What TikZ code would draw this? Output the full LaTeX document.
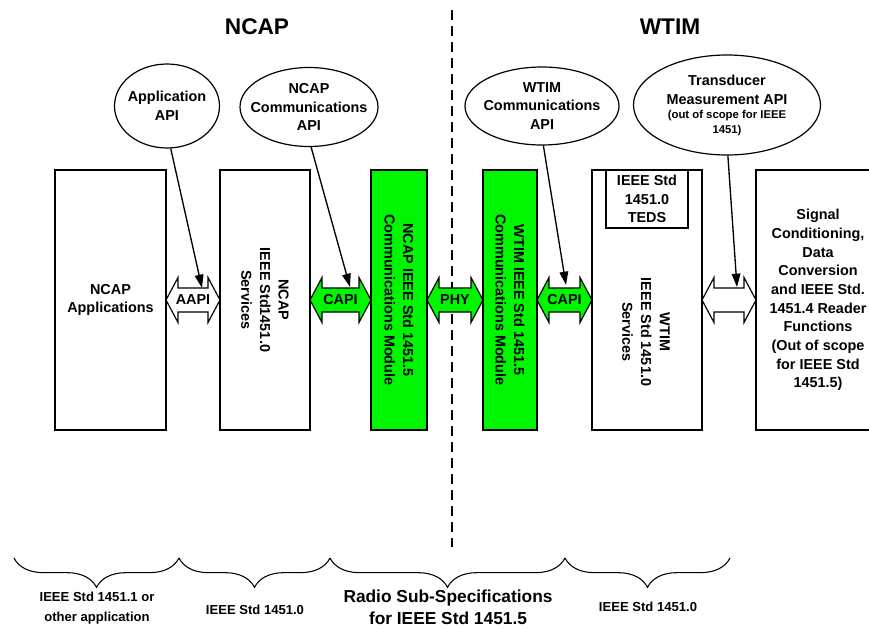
\documentclass[tikz,border=0pt]{standalone}
\usepackage{fontspec}
\setmainfont{Liberation Sans}
\usetikzlibrary{shapes.geometric,arrows.meta,decorations.pathreplacing}
\definecolor{modgreen}{RGB}{0,245,0}
\def\u{0.75pt}
\tikzset{
  txt/.style={font=\bfseries\fontsize{10.8}{14}\selectfont, align=center, inner sep=0pt},
  smalltxt/.style={font=\bfseries\fontsize{8.5}{11}\selectfont, align=center, inner sep=0pt},
  title/.style={font=\bfseries\fontsize{17}{22}\selectfont, inner sep=0pt},
  bottxt/.style={font=\bfseries\fontsize{9.8}{15}\selectfont, align=center, inner sep=0pt},
  bigbot/.style={font=\bfseries\fontsize{13}{16.5}\selectfont, align=center, inner sep=0pt},
  box/.style={draw=black, line width=0.9pt, rectangle, inner sep=0pt},
  greenbox/.style={box, fill=modgreen},
  apiell/.style={draw=black, line width=0.9pt, ellipse, inner sep=0pt},
  ptr/.style={line width=1pt, -{Triangle[length=10pt,width=6.5pt]}},
  blk/.style={draw=black, line width=0.9pt, line join=miter},
  sepline/.style={line width=1.5pt, dash pattern=on 7.5pt off 4.5pt},
  brc/.style={line width=0.8pt, decorate, decoration={brace, mirror, amplitude=22pt}},
}
\newcommand\blockarr[3]{%
  \filldraw[blk, fill=#3] (#1,300) -- ({#1+12},277.5) -- ({#1+12},288) -- ({#2-12},288) -- ({#2-12},277.5) -- (#2,300) -- ({#2-12},322.5) -- ({#2-12},312) -- ({#1+12},312) -- ({#1+12},322.5) -- cycle;}
\begin{document}
\begin{tikzpicture}[x=0.75pt, y=-0.75pt]
\useasboundingbox (0,0) rectangle (869,628);

% titles
\node[title] (tncap) at (257,27) {NCAP};
\node[title] (twtim) at (670,27) {WTIM};

% separator
\coordinate (septop) at (452,10);
\coordinate (sepbot) at (452,547);
\draw[sepline] (septop) -- (sepbot);

% boxes
\node[box, minimum width=111*\u, minimum height=260*\u, txt] (app) at (110.5,300) {NCAP\\Applications};
\node[box, minimum width=90*\u, minimum height=260*\u] (nsrv) at (265,300) {};
\node[txt, rotate=-90] (nsrvt) at (265,300) {NCAP\\IEEE Std1451.0\\Services};
\node[greenbox, minimum width=56*\u, minimum height=260*\u] (ncm) at (399,300) {};
\node[txt, rotate=-90] (ncmt) at (399,300) {NCAP IEEE Std 1451.5\\Communications Module};
\node[greenbox, minimum width=54*\u, minimum height=260*\u] (wcm) at (510,300) {};
\node[txt, rotate=-90] (wcmt) at (510,300) {WTIM IEEE Std 1451.5\\Communications Module};
\node[box, minimum width=110*\u, minimum height=260*\u] (wsrv) at (647,300) {};
\node[txt, rotate=-90] (wsrvt) at (646,332) {WTIM\\IEEE Std 1451.0\\Services};
\node[box, minimum width=82*\u, minimum height=58*\u, txt] (teds) at (647,199) {IEEE Std\\1451.0\\TEDS};
\node[box, minimum width=124*\u, minimum height=260*\u] (sig) at (818,300) {};
\node[txt] (sigt) at (818,300) {Signal\\Conditioning,\\Data\\Conversion\\and IEEE Std.\\1451.4 Reader\\Functions\\(Out of scope\\for IEEE Std\\1451.5)};

% block arrows
\blockarr{166}{220}{white}
\node[txt] (aapi) at (193,300) {AAPI};
\blockarr{310}{371}{modgreen}
\node[txt] (capi1) at (340.5,300) {CAPI};
\blockarr{427}{483}{modgreen}
\node[txt] (phy) at (455,300) {PHY};
\blockarr{537}{592}{modgreen}
\node[txt] (capi2) at (564.5,300) {CAPI};
\blockarr{702}{756}{white}
\coordinate (tma) at (729,300);

% API ellipses
\node[apiell, minimum width=105*\u, minimum height=84*\u,
  label={[txt]center:Application\\API}] (appapi) at (167,106) {};
\node[apiell, minimum width=138*\u, minimum height=79*\u,
  label={[txt]center:NCAP\\Communications\\API}] (ncapi) at (309,107) {};
\node[apiell, minimum width=154*\u, minimum height=78*\u,
  label={[txt]center:WTIM\\Communications\\API}] (wcapi) at (542,106) {};
\node[apiell, minimum width=187*\u, minimum height=100*\u] (tapi) at (727,105) {};
\node[txt] (tapit) at (727,90) {Transducer\\Measurement API};
\node[smalltxt] (tapis) at (727,123) {(out of scope for IEEE\\1451)};

% pointers
\coordinate (p1) at (202,288);
\coordinate (p2) at (350,287);
\coordinate (p3) at (566,285);
\coordinate (p4) at (737,287);
\draw[ptr] (appapi.-85) -- (p1);
\draw[ptr] (ncapi.-87) -- (p2);
\draw[ptr] (wcapi.-88) -- (p3);
\draw[ptr] (tapi.-89) -- (p4);

% braces
\coordinate (b0) at (14,558);
\coordinate (b1) at (179,558);
\coordinate (b2) at (330,558);
\coordinate (b3) at (565,558);
\coordinate (b4) at (730,558);
\draw[brc] (b0) -- (b1);
\draw[brc] (b1) -- (b2);
\draw[brc] (b2) -- (b3);
\draw[brc] (b3) -- (b4);

\node[bottxt] (l1) at (97,608) {IEEE Std 1451.1 or\\other application};
\node[bottxt] (l2) at (255,610) {IEEE Std 1451.0};
\node[bigbot] (l3) at (448,607) {Radio Sub-Specifications\\for IEEE Std 1451.5};
\node[bottxt] (l4) at (648,607) {IEEE Std 1451.0};
\end{tikzpicture}
\end{document}
